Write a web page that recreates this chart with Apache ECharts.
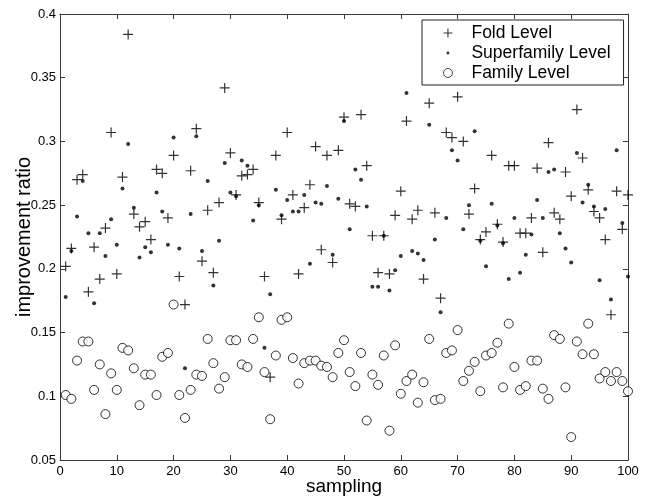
<!DOCTYPE html>
<html>
<head>
<meta charset="utf-8">
<script src="https://cdn.jsdelivr.net/npm/echarts@6.0.0/dist/echarts.min.js"></script>
<style>
  html, body { margin: 0; padding: 0; background: #fff; }
  #chart { width: 647px; height: 500px; }
</style>
</head>
<body>
<div id="chart"></div>
<script>
// values per sampling run 1..100
const foldLevel = [
  0.202, 0.216, 0.270, 0.274, 0.182, 0.217, 0.192, 0.232, 0.307, 0.196,
  0.272, 0.384, 0.243, 0.233, 0.237, 0.223, 0.278, 0.275, 0.240, 0.289,
  0.194, 0.172, 0.277, 0.310, 0.206, 0.246, 0.197, 0.252, 0.342, 0.291,
  0.258, 0.273, 0.274, 0.278, 0.252, 0.194, 0.115, 0.289, 0.239, 0.307,
  0.258, 0.196, 0.248, 0.266, 0.296, 0.215, 0.289, 0.205, 0.293, 0.319,
  0.251, 0.249, 0.321, 0.281, 0.226, 0.197, 0.226, 0.196, 0.242, 0.261,
  0.316, 0.239, 0.246, 0.192, 0.330, 0.244, 0.177, 0.307, 0.303, 0.335,
  0.300, 0.243, 0.263, 0.223, 0.229, 0.289, 0.235, 0.221, 0.281, 0.281,
  0.228, 0.228, 0.240, 0.279, 0.213, 0.299, 0.244, 0.239, 0.276, 0.257,
  0.325, 0.287, 0.262, 0.245, 0.240, 0.223, 0.164, 0.261, 0.231, 0.258
];
const superfamilyLevel = [
  0.178, 0.214, 0.241, 0.269, 0.228, 0.173, 0.228, 0.210, 0.239, 0.219,
  0.263, 0.298, 0.248, 0.209, 0.217, 0.213, 0.260, 0.245, 0.219, 0.303,
  0.216, 0.122, 0.243, 0.304, 0.214, 0.269, 0.187, 0.222, 0.283, 0.260,
  0.257, 0.285, 0.281, 0.238, 0.250, 0.138, 0.180, 0.262, 0.242, 0.254,
  0.245, 0.245, 0.258, 0.204, 0.252, 0.251, 0.265, 0.211, 0.255, 0.316,
  0.231, 0.278, 0.270, 0.249, 0.186, 0.186, 0.226, 0.183, 0.199, 0.210,
  0.338, 0.214, 0.212, 0.207, 0.313, 0.223, 0.166, 0.240, 0.293, 0.285,
  0.231, 0.250, 0.308, 0.222, 0.202, 0.251, 0.234, 0.220, 0.192, 0.240,
  0.197, 0.211, 0.227, 0.254, 0.240, 0.276, 0.278, 0.228, 0.216, 0.205,
  0.291, 0.252, 0.266, 0.249, 0.191, 0.247, 0.176, 0.293, 0.236, 0.194
];
const familyLevel = [
  0.101, 0.098, 0.128, 0.143, 0.143, 0.105, 0.125, 0.086, 0.118, 0.105,
  0.138, 0.136, 0.122, 0.093, 0.117, 0.117, 0.101, 0.131, 0.134, 0.172,
  0.101, 0.083, 0.105, 0.117, 0.116, 0.145, 0.126, 0.106, 0.115, 0.144,
  0.144, 0.125, 0.123, 0.145, 0.162, 0.119, 0.082, 0.132, 0.160, 0.162,
  0.130, 0.110, 0.126, 0.128, 0.128, 0.124, 0.123, 0.115, 0.134, 0.144,
  0.119, 0.108, 0.134, 0.081, 0.117, 0.109, 0.132, 0.073, 0.140, 0.102,
  0.112, 0.117, 0.095, 0.111, 0.145, 0.097, 0.098, 0.134, 0.136, 0.152,
  0.112, 0.120, 0.127, 0.104, 0.132, 0.134, 0.142, 0.107, 0.157, 0.123,
  0.105, 0.108, 0.128, 0.128, 0.106, 0.098, 0.148, 0.145, 0.107, 0.068,
  0.143, 0.133, 0.157, 0.133, 0.114, 0.119, 0.112, 0.119, 0.112, 0.104
];

const FONT = 'Liberation Sans, Arial, Helvetica, sans-serif';
const AXIS_COLOR = '#3a3a3a';

// '+' marker, dot with padded bounds so legend keeps it small
const plusIcon = 'path://M0,4.4H10V5.6H0Z M4.4,0H5.6V10H4.4Z';
const dotIcon = 'path://M0,0M10,10M5,3.4A1.6,1.6,0,1,1,4.99,3.4Z';

const toPoints = arr => arr.map((v, i) => [i + 1, v]);
const fmtY = v => String(+v.toFixed(2));

const boxAxis = (extra) => Object.assign({
  type: 'value',
  nameMoveOverlap: false,
  axisLine: { show: true, onZero: false, lineStyle: { color: AXIS_COLOR, width: 1 } },
  axisTick: { show: true, inside: true, length: 5, lineStyle: { color: AXIS_COLOR } },
  splitLine: { show: false }
}, extra);

const chart = echarts.init(document.getElementById('chart'), null, { renderer: 'canvas' });

chart.setOption({
  backgroundColor: '#fff',
  animation: false,
  grid: { left: 60, right: 19, top: 14, bottom: 40, outerBoundsMode: 'none' },
  xAxis: [
    boxAxis({
      position: 'bottom', min: 0, max: 100, interval: 10,
      name: 'sampling', nameLocation: 'middle', nameGap: 17,
      nameTextStyle: { fontFamily: FONT, fontSize: 19, color: '#000' },
      axisLabel: { margin: 5, fontFamily: FONT, fontSize: 13, color: '#000' }
    }),
    boxAxis({
      position: 'top', min: 0, max: 100, interval: 10,
      axisLabel: { show: false }
    })
  ],
  yAxis: [
    boxAxis({
      position: 'left', min: 0.05, max: 0.4, interval: 0.05,
      name: 'improvement ratio', nameLocation: 'middle', nameGap: 26, nameRotate: 90,
      nameTextStyle: { fontFamily: FONT, fontSize: 20, color: '#000' },
      axisLabel: { margin: 4, fontFamily: FONT, fontSize: 13, color: '#000', formatter: fmtY }
    }),
    boxAxis({
      position: 'right', min: 0.05, max: 0.4, interval: 0.05,
      axisLabel: { show: false }
    })
  ],
  legend: {
    orient: 'vertical',
    left: 422,
    top: 20,
    selectedMode: false,
    itemWidth: 9,
    itemHeight: 9,
    itemGap: 0,
    padding: [3, 13, 2, 21],
    borderColor: '#222',
    borderWidth: 1,
    backgroundColor: '#fff',
    textStyle: { fontFamily: FONT, fontSize: 17.5, color: '#000', lineHeight: 20, padding: [0, 0, 0, 14] },
    data: [
      { name: 'Fold Level', icon: plusIcon },
      { name: 'Superfamily Level', icon: dotIcon },
      { name: 'Family Level', icon: 'circle', itemStyle: { color: '#fff', borderColor: '#000', borderWidth: 0.9 } }
    ]
  },
  series: [
    {
      name: 'Fold Level', type: 'scatter', clip: false,
      symbol: plusIcon, symbolSize: 10,
      itemStyle: { color: '#000' },
      data: toPoints(foldLevel)
    },
    {
      name: 'Superfamily Level', type: 'scatter', clip: false,
      symbol: 'circle', symbolSize: 4,
      itemStyle: { color: '#000' },
      data: toPoints(superfamilyLevel)
    },
    {
      name: 'Family Level', type: 'scatter', clip: false,
      symbol: 'circle', symbolSize: 9,
      itemStyle: { color: '#fff', borderColor: '#000', borderWidth: 1 },
      data: toPoints(familyLevel)
    }
  ]
});
</script>
</body>
</html>
